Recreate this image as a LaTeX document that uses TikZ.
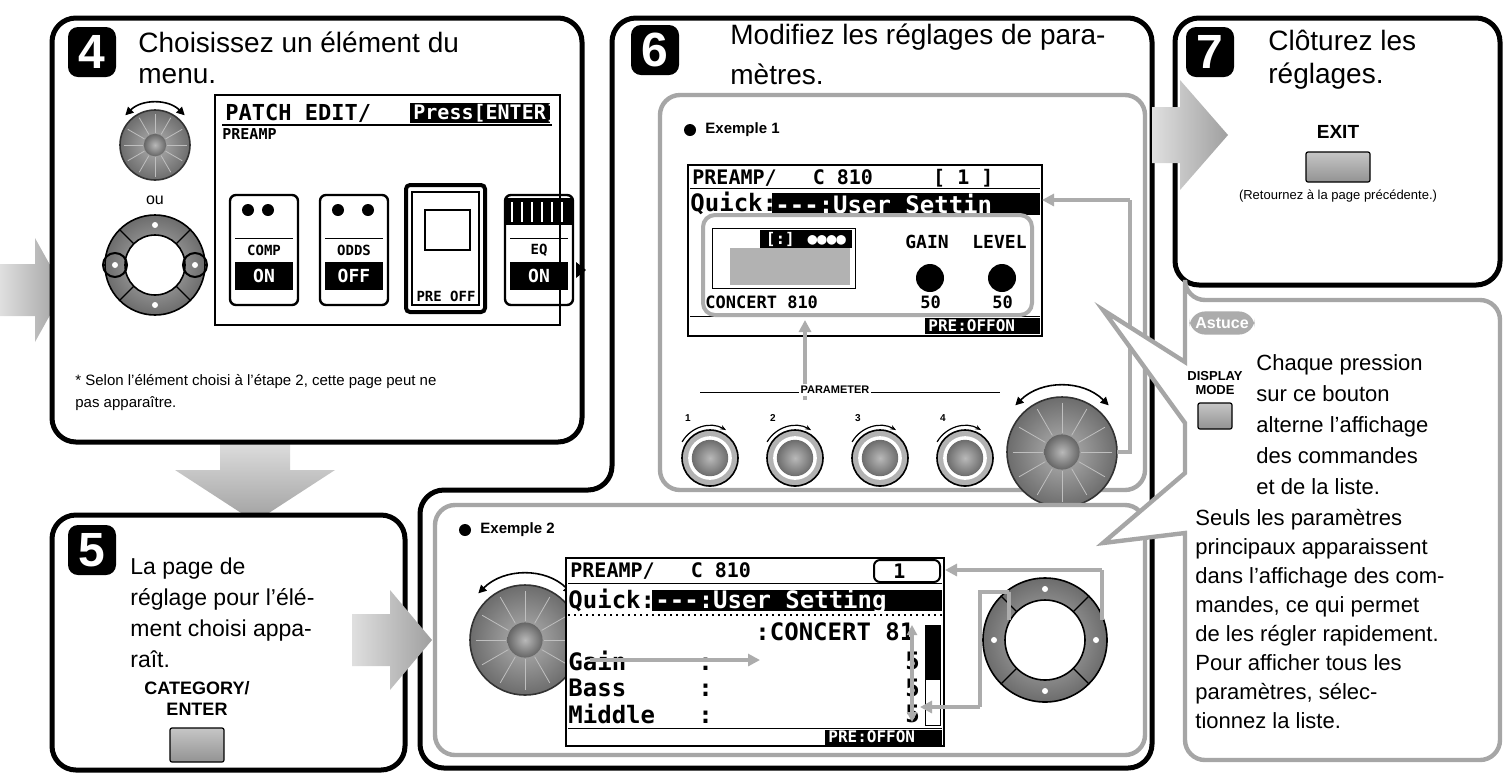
\documentclass[tikz,border=0pt]{standalone}
\usepackage{fontspec}
\setmainfont{Liberation Sans}
\newfontfamily\lcd{DejaVu Sans Mono}
\usetikzlibrary{arrows.meta}
\tikzset{
 panel/.style={draw=black,line width=2.5pt,rounded corners=12pt,fill=white},
 gbox/.style={draw=gray!70,line width=2.2pt,rounded corners=10pt,fill=white},
 badge/.style={fill=black,text=white,rounded corners=5pt,minimum width=24pt,minimum height=25pt,font=\bfseries\fontsize{24}{24}\selectfont,inner sep=0},
 big/.style={anchor=west,font=\fontsize{14}{16}\selectfont,inner sep=0},
 mid/.style={anchor=base west,font=\fontsize{11.5}{13}\selectfont,inner sep=0},
 small/.style={anchor=west,font=\fontsize{7}{8}\selectfont,inner sep=0},
 lcdt/.style={anchor=west,font=\lcd\bfseries\fontsize{10}{10}\selectfont,inner sep=0},
 lcdbox/.style={draw=black,line width=1pt,fill=white},
 gline/.style={draw=gray!65,line width=2pt},
 garrow/.style={gline,-{Triangle[length=6pt,width=6pt]}},
 btn/.style={draw=black,line width=0.6pt,top color=gray!45,bottom color=gray!85,rounded corners=1pt},
}
\newcommand\bigdial[3]{%
 \shade[inner color=gray!60,outer color=gray!85!black] (#1,#2) circle (#3);
 \draw[gray!40!black,line width=0.8pt] (#1,#2) circle (#3);
 \foreach \a in {0,30,...,330}{\draw[gray!50,line width=0.4pt] (#1,#2) ++(\a:0.35*#3) -- ++(\a:0.55*#3);}
 \shade[inner color=gray!55,outer color=gray!80!black] (#1,#2) circle (0.32*#3);
 \draw[line width=0.8pt,{Triangle[length=4pt,width=4pt]}-{Triangle[length=4pt,width=4pt]}] (#1,#2) ++(225:1.2*#3) arc (225:315:1.2*#3);}
\newcommand\navring[4]{%
 \shade[inner color=gray!55,outer color=gray!85!black] (#1,#2) circle (#3);
 \fill[white] (#1,#2) circle (#4);
 \draw[black,line width=0.8pt] (#1,#2) circle (#3) (#1,#2) circle (#4);
 \foreach \a in {45,135,225,315}{\draw[black,line width=0.6pt] (#1,#2) ++(\a:#4) -- ++(\a:{#3-#4});}
 \foreach \a in {0,90,180,270}{\fill[white] (#1,#2) ++(\a:{(#3+#4)/2}) circle (1.5pt);}}
\newcommand\knob[3]{%
 \fill[gray!60] (#1,#2) circle (#3);
 \fill[white] (#1,#2) circle (0.78*#3);
 \shade[inner color=gray!55,outer color=gray!85!black] (#1,#2) circle (0.65*#3);
 \draw[line width=0.8pt] (#1,#2) circle (#3);
 \draw[line width=0.6pt,-{Stealth[length=3pt]}] (#1,#2) ++(210:1.15*#3) arc (210:300:1.15*#3);}
\newcommand\rarrow[6]{%
 \shade[left color=gray!25,right color=gray!75] (#1,#2-#5) -- (#3,#2-#5) -- (#3,#2-#6) -- (#4,#2) -- (#3,#2+#6) -- (#3,#2+#5) -- (#1,#2+#5) -- cycle;}
\begin{document}
\begin{tikzpicture}[x=0.5pt,y=-0.5pt]
\useasboundingbox (0,0) rectangle (1510,773);
\rarrow{0}{290}{35}{64}{26}{52}
\shade[top color=gray!25,bottom color=gray!75] (220,440) -- (290,440) -- (290,470) -- (335,470) -- (255,522) -- (175,470) -- (220,470) -- cycle;
\draw[panel] (612,18) -- (1152,18) -- (1152,768) -- (420,768) -- (420,490) -- (612,490) -- cycle;
% panel 4
\draw[panel] (52,18) rectangle (582,442);
\node[badge] (b4) at (92,52) {4};
\node[big] (t4a) at (138,42) {Choisissez un élément du};
\node[big] (t4b) at (138,76) {menu.};
\bigdial{155}{145}{35}
\node[font=\fontsize{8}{8}\selectfont] (ou) at (155,200) {ou};
\navring{155}{265}{50}{30}
\draw[black,line width=1pt] (115,265) circle (12) (195,265) circle (12);
\draw[lcdbox] (215,95) rectangle (560,325);
\node[lcdt,font=\lcd\bfseries\fontsize{11}{11}\selectfont] (l4a) at (225,113) {PATCH EDIT/};
\fill (410,103) rectangle (550,123);
\node[lcdt,text=white] (l4b) at (413,113) {Press[ENTER]};
\draw[line width=0.8pt] (222,125) -- (552,125);
\node[lcdt,font=\lcd\bfseries\fontsize{7.5}{8}\selectfont] (l4c) at (222,134) {PREAMP};
\foreach \x/\lab/\ww in {230/COMP/ON,320/OD\/DS/OFF,505/EQ/ON}{
 \draw[line width=1.2pt,rounded corners=3pt] (\x,195) rectangle (\x+68,305);
 \node[font=\lcd\bfseries\fontsize{7}{7}\selectfont] at (\x+34,250) {\lab};
 \fill (\x+5,262) rectangle (\x+63,290);
 \node[font=\lcd\bfseries\fontsize{9}{9}\selectfont,text=white] at (\x+34,276) {\ww};
 \draw (\x+5,238) -- (\x+63,238) (\x+5,262) -- (\x+63,262);}
\foreach \x in {248,268,338,368}{\fill (\x,210) circle (6);}
\fill[black] (505,198) rectangle (573,225);
\foreach \x in {512,522,...,565}{\draw[white,line width=1pt] (\x,202) -- (\x,222);}
\draw[line width=2pt,rounded corners=2pt] (406,185) rectangle (485,312);
\draw[line width=1pt] (412,192) rectangle (479,305);
\node[font=\lcd\bfseries\fontsize{7}{7}\selectfont] at (446,296) {PRE OFF};
\draw[line width=1pt] (425,210) rectangle (470,250);
\fill (576,262) -- (586,270) -- (576,278) -- cycle;
\node[small,font=\fontsize{7.5}{9}\selectfont] (f4a) at (75,382) {* Selon l’élément choisi à l’étape 2, cette page peut ne};
\node[small,font=\fontsize{7.5}{9}\selectfont] (f4b) at (75,404) {pas apparaître.};
% panel 5
\draw[panel] (52,515) rectangle (405,770);
\node[badge] (b5) at (92,550) {5};
\node[mid] (t5a) at (130,574) {La page de};
\node[mid] (t5b) at (130,605) {réglage pour l’élé-};
\node[mid] (t5c) at (130,636) {ment choisi appa-};
\node[mid] (t5d) at (130,667) {raît.};
\node[font=\bfseries\fontsize{9}{10.5}\selectfont,align=center] (cat) at (197,698) {CATEGORY/\\ENTER};
\node[btn,minimum width=27pt,minimum height=17pt] (catb) at (197,745) {};
% panel 6 text
\node[badge] (b6) at (655,50) {6};
\node[big] (t6a) at (730,37) {Modifiez les réglages de para-};
\node[big] (t6b) at (730,74) {mètres.};
% example 1
\draw[gbox] (660,95) rectangle (1145,490);
\fill (690,130) circle (6);
\node[small,font=\bfseries\fontsize{7.5}{8}\selectfont] (e1) at (705,130) {Exemple 1};
\draw[lcdbox] (688,165) rectangle (1042,336);
\node[lcdt] (l1a) at (692,178) {PREAMP/ \ \ C 810 \ \ \ \ [ 1 ]};
\draw (690,188) -- (1040,188);
\node[lcdt,font=\lcd\bfseries\fontsize{12}{12}\selectfont] (l1b) at (690,203) {Quick:};
\fill (772,193) rectangle (1040,215);
\node[lcdt,text=white,font=\lcd\bfseries\fontsize{12}{12}\selectfont] (l1c) at (775,204) {---:User Settin};
\draw (712,228) rectangle (855,288);
\fill[gray!60] (730,248) rectangle (850,285);
\fill (760,230) rectangle (852,248);
\node[font=\lcd\bfseries\fontsize{8}{8}\selectfont,text=white] at (806,239) {[:] ●●●●};
\node[lcdt,font=\lcd\bfseries\fontsize{9}{9}\selectfont] at (905,242) {GAIN};
\node[lcdt,font=\lcd\bfseries\fontsize{9}{9}\selectfont] at (972,242) {LEVEL};
\fill (930,278) circle (14) (1002,278) circle (14);
\node[lcdt,font=\lcd\bfseries\fontsize{8.5}{9}\selectfont] at (705,302) {CONCERT 810};
\node[lcdt,font=\lcd\bfseries\fontsize{8.5}{9}\selectfont] at (920,302) {50};
\node[lcdt,font=\lcd\bfseries\fontsize{8.5}{9}\selectfont] at (992,302) {50};
\draw (690,316) -- (1040,316);
\fill (925,318) rectangle (1040,334);
\node[lcdt,text=white,font=\lcd\bfseries\fontsize{8}{8}\selectfont] at (928,326) {PRE:OFFON};
\draw[gline,rounded corners=6pt] (703,215) rectangle (1032,315);
\draw[garrow] (805,400) -- (805,320);
\draw (700,392) -- (1000,392);
\node[font=\bfseries\fontsize{5.5}{6}\selectfont,fill=white,inner sep=1pt] (par) at (835,390) {PARAMETER};
\foreach \i/\x in {1/710,2/795,3/880,4/965}{\knob{\x}{458}{28}\node[font=\bfseries\fontsize{5}{5}\selectfont] at (\x-22,418) {\i};}
\bigdial{1062}{452}{55}
\draw[gline] (1117,452) -- (1130,452) -- (1130,200);
\draw[garrow] (1130,200) -- (1042,200);
% example 2
\draw[gbox] (435,505) rectangle (1145,755);
\fill (465,530) circle (6);
\node[small,font=\bfseries\fontsize{7.5}{8}\selectfont] (e2) at (480,530) {Exemple 2};
\rarrow{352}{640}{390}{432}{26}{50}
\bigdial{525}{640}{55}
\draw[lcdbox] (566,558) rectangle (944,746);
\node[lcdt] (l2a) at (570,571) {PREAMP/ \ \ C 810};
\draw[line width=1pt,rounded corners=3pt] (874,560) rectangle (940,582);
\node[lcdt] at (893,571) {1};
\draw (568,583) -- (942,583);
\node[lcdt,font=\lcd\bfseries\fontsize{12}{12}\selectfont] (l2b) at (568,600) {Quick:};
\fill (652,590) rectangle (942,611);
\node[lcdt,text=white,font=\lcd\bfseries\fontsize{12}{12}\selectfont] at (655,601) {---:User Setting};
\draw[dotted,line width=1pt] (568,615) -- (942,615);
\node[lcdt,font=\lcd\bfseries\fontsize{12}{12}\selectfont] at (755,632) {:CONCERT 81};
\node[lcdt,font=\lcd\bfseries\fontsize{12}{12}\selectfont] at (568,661) {Gain \ \ \ \ :};
\node[lcdt,font=\lcd\bfseries\fontsize{12}{12}\selectfont] at (568,688) {Bass \ \ \ \ :};
\node[lcdt,font=\lcd\bfseries\fontsize{12}{12}\selectfont] at (568,714) {Middle \ \ :};
\node[lcdt,font=\lcd\bfseries\fontsize{12}{12}\selectfont] at (905,661) {5};
\node[lcdt,font=\lcd\bfseries\fontsize{12}{12}\selectfont] at (905,688) {5};
\node[lcdt,font=\lcd\bfseries\fontsize{12}{12}\selectfont] at (905,714) {5};
\fill (925,625) rectangle (940,680);
\draw (925,625) rectangle (940,725);
\draw (568,728) -- (942,728);
\fill (825,730) rectangle (942,745);
\node[lcdt,text=white,font=\lcd\bfseries\fontsize{8}{8}\selectfont] at (828,737) {PRE:OFFON};
\draw[garrow] (590,660) -- (760,660);
\draw[gline,{Triangle[length=5pt,width=5pt]}-{Triangle[length=5pt,width=5pt]}] (912,625) -- (912,722);
\navring{1045}{640}{62}{40}
\draw[gline] (1009,620) -- (1009,592);
\draw[gline] (1102,620) -- (1102,570);
\draw[garrow] (1102,570) -- (945,570);
\draw[gline] (1009,592) -- (980,592) -- (980,707);
\draw[garrow] (980,707) -- (920,707);
% panel 7
\draw[panel] (1175,18) rectangle (1500,285);
\node[badge] (b7) at (1210,52) {7};
\node[big] (t7a) at (1268,40) {Clôturez les};
\node[big] (t7b) at (1268,76) {réglages.};
\node[font=\bfseries\fontsize{9.5}{10}\selectfont] (exit) at (1338,132) {EXIT};
\node[btn,minimum width=32pt,minimum height=15pt] (exb) at (1338,167) {};
\node[font=\fontsize{6.5}{7}\selectfont] (ret) at (1338,196) {(Retournez à la page précédente.)};
\rarrow{1152}{135}{1180}{1228}{28}{55}
% astuce
\draw[draw=gray!70,line width=2.2pt,fill=white,line join=miter]
 (1185,362) -- (1185,300) [rounded corners=10pt] -- (1185,300) -- (1500,300) -- (1500,760) -- (1185,760) [sharp corners] -- (1185,533) -- (1103,543) -- (1185,473) -- (1185,423) -- (1103,310) -- cycle;
\node[fill=gray!65,text=white,rounded corners=8pt,font=\bfseries\fontsize{8}{8}\selectfont,inner sep=3pt] (ast) at (1222,323) {Astuce};
\node[font=\bfseries\fontsize{6.5}{7}\selectfont,align=center,inner sep=0] (dm) at (1215,383) {DISPLAY\\MODE};
\node[btn,minimum width=17pt,minimum height=13pt] (dmb) at (1215,416) {};
\foreach \i/\t in {0/Chaque pression,1/sur ce bouton,2/alterne l’affichage,3/des commandes,4/et de la liste.}{\node[mid,font=\fontsize{11}{12}\selectfont] at (1256,370+31*\i) {\t};}
\foreach \i/\t in {0/Seuls les paramètres,1/principaux apparaissent,2/dans l’affichage des com-,3/{mandes, ce qui permet},4/de les régler rapidement.,5/Pour afficher tous les,6/{paramètres, sélec-},7/tionnez la liste.}{\node[mid,font=\fontsize{11}{12}\selectfont] at (1195,525+29*\i) {\t};}
\end{tikzpicture}
\end{document}
